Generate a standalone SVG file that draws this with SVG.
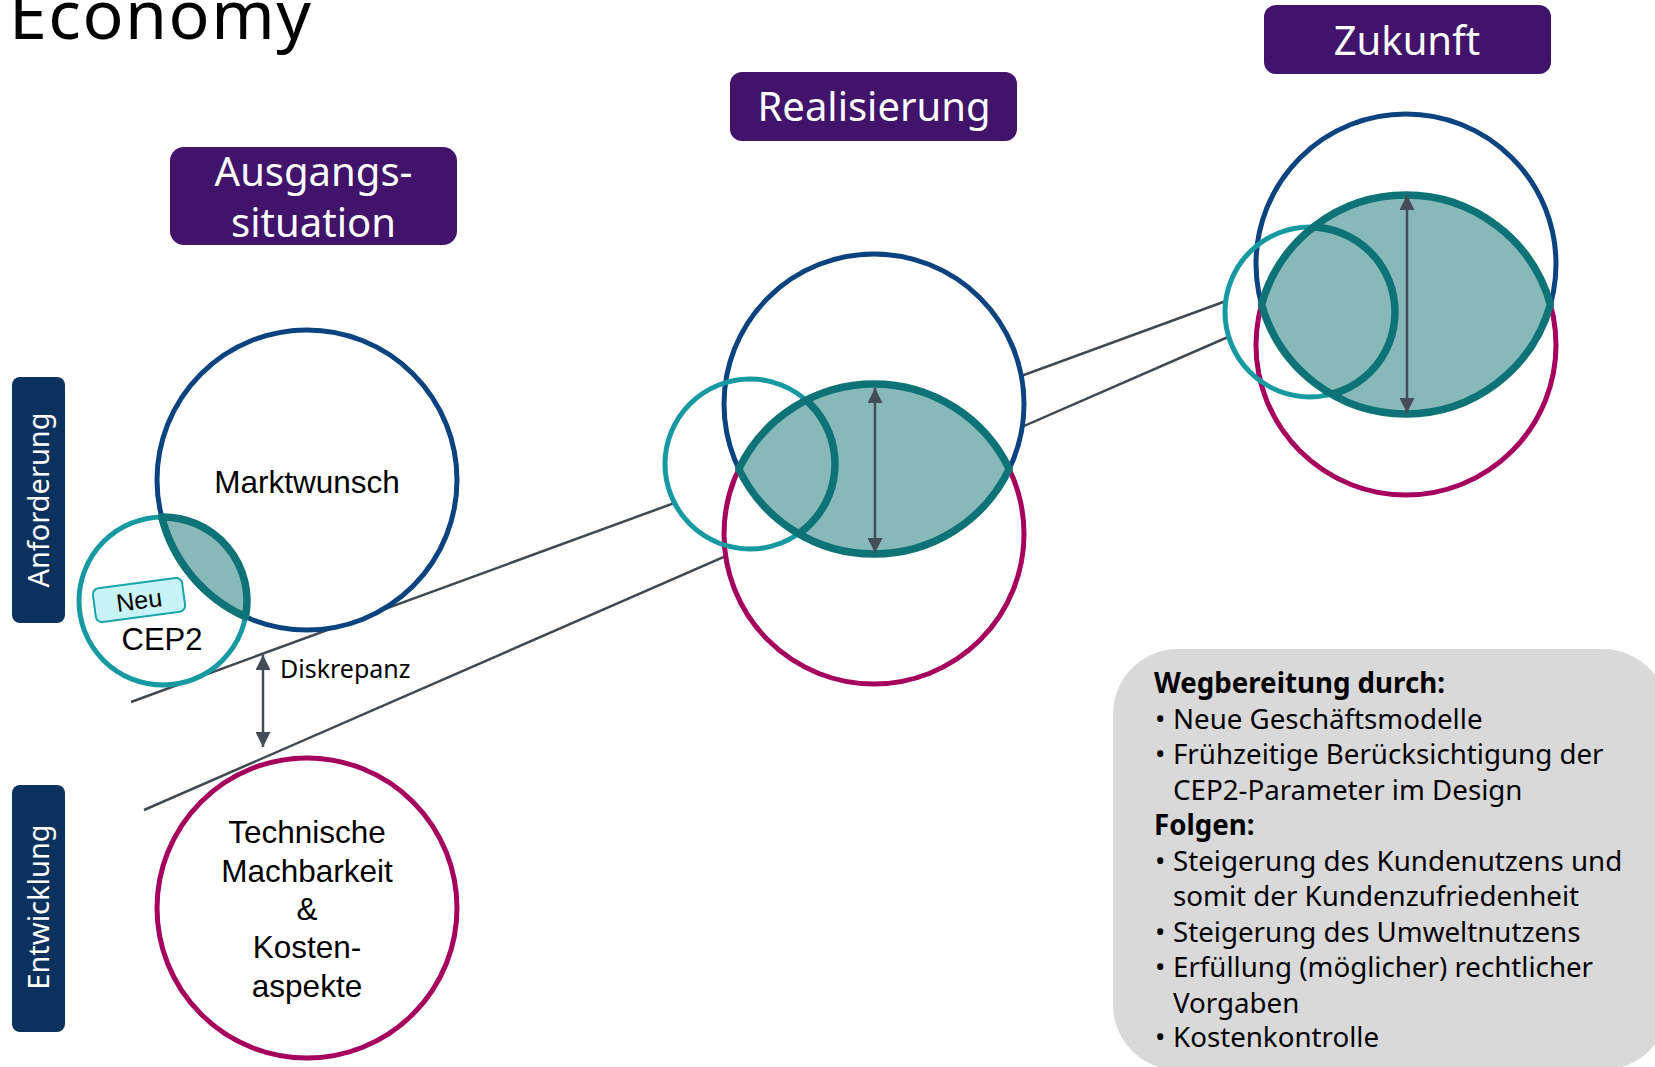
<svg xmlns="http://www.w3.org/2000/svg" width="1655" height="1067" viewBox="0 0 1655 1067">
<style>
.bs{font-family:"Noto Sans","Liberation Sans",sans-serif}
.ar{font-family:"Liberation Sans",Arial,sans-serif}
.phase{fill:#41136b}
.phtxt{fill:#ffffff;font-size:40px;text-anchor:middle}
.side{fill:#0b315f}
.sidetxt{fill:#ffffff;font-size:29px;text-anchor:middle}
.bg{fill:#ffffff;stroke:none}
.blue{fill:none;stroke:#0b4381;stroke-width:5}
.mag{fill:none;stroke:#a6005e;stroke-width:5}
.teal{fill:none;stroke:#1699a0;stroke-width:5}
.lens{fill:#88b9ba;stroke:#0e7377;stroke-width:7.5;stroke-linejoin:round}
.lensarc{fill:none;stroke:#0e7377;stroke-width:7.5}
.conn{fill:none;stroke:#3f4853;stroke-width:2.5}
.arr{fill:none;stroke:#434c57;stroke-width:2.5;marker-start:url(#ah);marker-end:url(#ah)}
.lbl{fill:#000000;font-size:31.5px;text-anchor:middle}
.box{font-size:27.7px;fill:#000000}
</style>
<defs>
<marker id="ah" viewBox="0 0 10 10" refX="10" refY="5" markerWidth="15" markerHeight="15" markerUnits="userSpaceOnUse" orient="auto-start-reverse">
<path d="M0,0 L10,5 L0,10 z" fill="#434c57"/>
</marker>
<clipPath id="clipR"><path d="M738.8,469 A150,150 0 0,1 1009.2,469 A150,150 0 0,1 738.8,469 Z"/></clipPath>
<clipPath id="clipZ"><path d="M1261.6,304.5 A150,150 0 0,1 1550.4,304.5 A150,150 0 0,1 1261.6,304.5 Z"/></clipPath>
</defs>

<g id="title">
<text class="bs" x="9" y="39" font-size="68" textLength="302" lengthAdjust="spacing" fill="#000000">Economy</text>
</g>

<g id="phase-ausgang">
<rect class="phase" x="170" y="147" width="287" height="98" rx="14"/>
<text class="bs phtxt" x="313.5" y="186">Ausgangs-</text>
<text class="bs phtxt" x="313.5" y="237">situation</text>
</g>
<g id="phase-realisierung">
<rect class="phase" x="730" y="72" width="287" height="69" rx="12"/>
<text class="bs phtxt" x="874" y="121">Realisierung</text>
</g>
<g id="phase-zukunft">
<rect class="phase" x="1264" y="5" width="287" height="69" rx="12"/>
<text class="bs phtxt" x="1407" y="55">Zukunft</text>
</g>

<g id="side-anforderung">
<rect class="side" x="12" y="377" width="53" height="246" rx="8"/>
<text class="bs sidetxt" transform="translate(49,500) rotate(-90)">Anforderung</text>
</g>
<g id="side-entwicklung">
<rect class="side" x="12" y="785" width="53" height="247" rx="8"/>
<text class="bs sidetxt" transform="translate(49,907) rotate(-90)">Entwicklung</text>
</g>

<g id="connectors">
<line class="conn" x1="131" y1="702" x2="1226" y2="301"/>
<line class="conn" x1="144" y1="810" x2="1228" y2="337"/>
<line class="arr" x1="263" y1="655" x2="263" y2="747"/>
</g>

<g id="backdrops">
<circle class="bg" cx="307" cy="480" r="150"/>
<circle class="bg" cx="163" cy="601" r="84"/>
<circle class="bg" cx="307" cy="908" r="150"/>
<circle class="bg" cx="874" cy="404" r="150"/>
<circle class="bg" cx="874" cy="534" r="150"/>
<circle class="bg" cx="750" cy="464" r="85"/>
<circle class="bg" cx="1406" cy="264" r="150"/>
<circle class="bg" cx="1406" cy="345" r="150"/>
<circle class="bg" cx="1310" cy="312" r="85"/>
</g>

<g id="node-marktwunsch">
<circle class="blue" cx="307" cy="480" r="150"/>
<text class="ar lbl" x="307" y="493">Marktwunsch</text>
</g>
<g id="node-cep2">
<circle class="teal" cx="163" cy="601" r="84"/>
<text class="ar lbl" x="162" y="650" style="font-size:31px">CEP2</text>
</g>
<g id="lens-ausgang">
<path class="lens" d="M161.7,517 A84,84 0 0,1 245.5,616.8 A150,150 0 0,1 161.7,517 Z"/>
</g>
<g id="node-neu">
<g transform="translate(139,600) rotate(-7.6)">
<rect x="-45" y="-17" width="90" height="34" rx="6" fill="#c8f4f7" stroke="#1aa5ab" stroke-width="2"/>
<text class="ar" x="0" y="9" font-size="25" text-anchor="middle" fill="#000000">Neu</text>
</g>
</g>
<g id="label-diskrepanz">
<text class="bs" x="280" y="678" font-size="25" fill="#000000">Diskrepanz</text>
</g>
<g id="node-technik">
<circle class="mag" cx="307" cy="908" r="150"/>
<text class="ar lbl" x="307" y="843">Technische</text>
<text class="ar lbl" x="307" y="882">Machbarkeit</text>
<text class="ar lbl" x="307" y="920">&amp;</text>
<text class="ar lbl" x="307" y="958">Kosten-</text>
<text class="ar lbl" x="307" y="997">aspekte</text>
</g>

<g id="node-realisierung">
<circle class="blue" cx="874" cy="404" r="150"/>
<circle class="mag" cx="874" cy="534" r="150"/>
<circle class="teal" cx="750" cy="464" r="85"/>
<path class="lens" d="M738.8,469 A150,150 0 0,1 1009.2,469 A150,150 0 0,1 738.8,469 Z"/>
<circle class="lensarc" cx="750" cy="464" r="85" clip-path="url(#clipR)"/>
<line class="arr" x1="875" y1="388" x2="875" y2="553"/>
</g>

<g id="node-zukunft">
<circle class="blue" cx="1406" cy="264" r="150"/>
<circle class="mag" cx="1406" cy="345" r="150"/>
<circle class="teal" cx="1310" cy="312" r="85"/>
<path class="lens" d="M1261.6,304.5 A150,150 0 0,1 1550.4,304.5 A150,150 0 0,1 1261.6,304.5 Z"/>
<circle class="lensarc" cx="1310" cy="312" r="85" clip-path="url(#clipZ)"/>
<line class="arr" x1="1407" y1="195" x2="1407" y2="413"/>
</g>

<g id="textbox">
<rect x="1113" y="649" width="555" height="421" rx="65" fill="#d9d9d9"/>
<g class="bs box">
<text x="1154" y="693" font-weight="bold">Wegbereitung durch:</text>
<text x="1155" y="728.5">•</text><text x="1173" y="728.5">Neue Geschäftsmodelle</text>
<text x="1155" y="764">•</text><text x="1173" y="764">Frühzeitige Berücksichtigung der</text>
<text x="1173" y="799.5">CEP2-Parameter im Design</text>
<text x="1154" y="835" font-weight="bold">Folgen:</text>
<text x="1155" y="870.5">•</text><text x="1173" y="870.5">Steigerung des Kundenutzens und</text>
<text x="1173" y="906">somit der Kundenzufriedenheit</text>
<text x="1155" y="941.5">•</text><text x="1173" y="941.5">Steigerung des Umweltnutzens</text>
<text x="1155" y="977">•</text><text x="1173" y="977">Erfüllung (möglicher) rechtlicher</text>
<text x="1173" y="1012.5">Vorgaben</text>
<text x="1155" y="1047">•</text><text x="1173" y="1047">Kostenkontrolle</text>
</g>
</g>
</svg>
